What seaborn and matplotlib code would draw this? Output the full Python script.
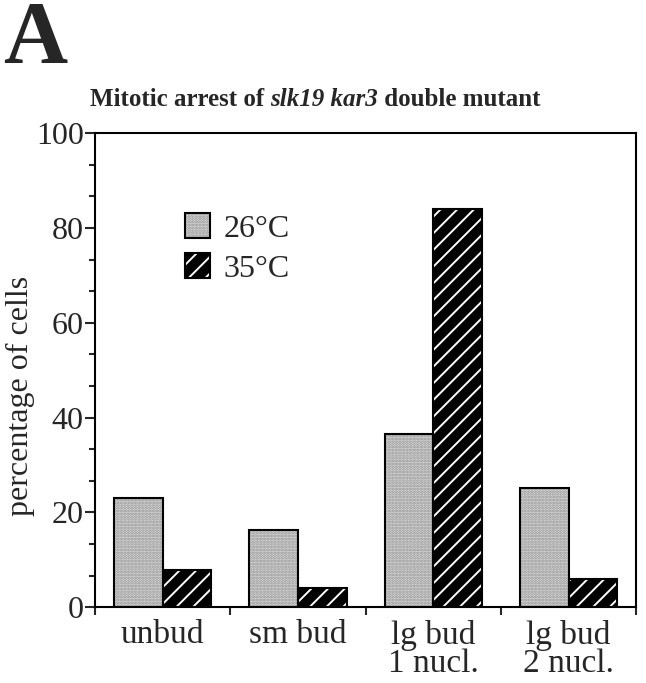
import numpy as np
import pandas as pd
import matplotlib
matplotlib.use('Agg')
import matplotlib.pyplot as plt
from matplotlib.patches import Rectangle
from matplotlib.ticker import MultipleLocator
import seaborn as sns

# data
stages = ['unbud', 'sm bud', 'lg bud\n1 nucl.', 'lg bud\n2 nucl.']
temps = ['26\u00b0C', '35\u00b0C']
pct_26 = [23.0, 16.2, 36.5, 25.2]
pct_35 = [7.8, 4.0, 84.0, 6.0]

df = pd.DataFrame({
    'stage': stages * 2,
    'temp': [temps[0]] * len(stages) + [temps[1]] * len(stages),
    'pct': pct_26 + pct_35,
})

sns.set_style('ticks')
plt.rcParams['font.family'] = ['Liberation Serif', 'DejaVu Serif']
plt.rcParams['hatch.linewidth'] = 1.4

fig = plt.figure(figsize=(6.46, 6.83), dpi=100)
ax = fig.add_axes([0.147, 0.111, 0.838, 0.694])

sns.barplot(data=df, x='stage', y='pct', hue='temp', order=stages,
            hue_order=temps, palette=['#d9d9d9', 'black'], width=0.72,
            saturation=1, ax=ax, legend=False)

# stipple for 26, white diagonals on black for 35
styles = {0: dict(face='#e2e2e2', hatch='......', hcol='#8c8c8c'),
          1: dict(face='black', hatch='//', hcol='white')}
n = len(stages)
bars = list(ax.patches)
for i, p in enumerate(bars):
    st = styles[i // n]
    p.set_facecolor(st['face'])
    p.set_hatch(st['hatch'])
    p.set_edgecolor(st['hcol'])
    p.set_linewidth(0)
    ax.add_patch(Rectangle(p.get_xy(), p.get_width(), p.get_height(),
                           fill=False, edgecolor='black', linewidth=1.5, zorder=3))

# legend: hatched patch + black outline overlaid
handles = []
for k in range(2):
    st = styles[k]
    fill = Rectangle((0, 0), 1, 1, facecolor=st['face'], hatch=st['hatch'],
                     edgecolor=st['hcol'], linewidth=0)
    edge = Rectangle((0, 0), 1, 1, fill=False, edgecolor='black', linewidth=1.5)
    handles.append((fill, edge))
ax.legend(handles, temps, loc='upper left', bbox_to_anchor=(0.166, 0.831),
          frameon=False, fontsize=23, handlelength=0.8, handleheight=0.8,
          handletextpad=0.4, labelspacing=0.3, borderpad=0, borderaxespad=0)

ax.set_xlim(-0.5, n - 0.5)
ax.set_ylim(0, 100)
ax.set_yticks(np.arange(0, 101, 20))
ax.yaxis.set_minor_locator(MultipleLocator(20 / 3))
ax.set_xticks(range(n), stages)
ax.set_xticks(np.arange(-0.5, n, 1.0), minor=True)
ax.tick_params(axis='x', which='major', length=0, pad=9, labelsize=24)
ax.tick_params(axis='x', which='minor', length=6, width=1.5, direction='out')
ax.tick_params(axis='y', which='major', length=7, width=1.5, pad=1, labelsize=23)
ax.tick_params(axis='y', which='minor', length=4, width=1.5)
for lab in ax.get_xticklabels():
    lab.set_verticalalignment('top')
    lab.set_multialignment('center')
    lab.set_linespacing(0.92)

ax.set_xlabel('')
ax.set_ylabel('percentage of cells', fontsize=23)
ax.yaxis.set_label_coords(-0.111, 0.445)
for s in ax.spines.values():
    s.set_visible(True)
    s.set_linewidth(1.5)
    s.set_color('black')

# title in three pieces so the gene names are bold italic
pieces = [('Mitotic arrest of ', 'normal'), ('slk19 kar3', 'italic'), (' double mutant', 'normal')]
renderer = fig.canvas.get_renderer()
texts = []
for s, style in pieces:
    t = fig.text(0, 1 - 100 / 683, s, ha='left', va='center', fontsize=18,
                 fontweight='bold', fontstyle=style)
    texts.append(t)
widths = [t.get_window_extent(renderer).width for t in texts]
x = 315 - sum(widths) / 2
for t, w in zip(texts, widths):
    t.set_x(x / 646)
    x += w

fig.text(3 / 646, 1 - 62 / 683, 'A', ha='left', va='baseline', fontsize=64, fontweight='bold')

fig.savefig('out.png', dpi=100)
